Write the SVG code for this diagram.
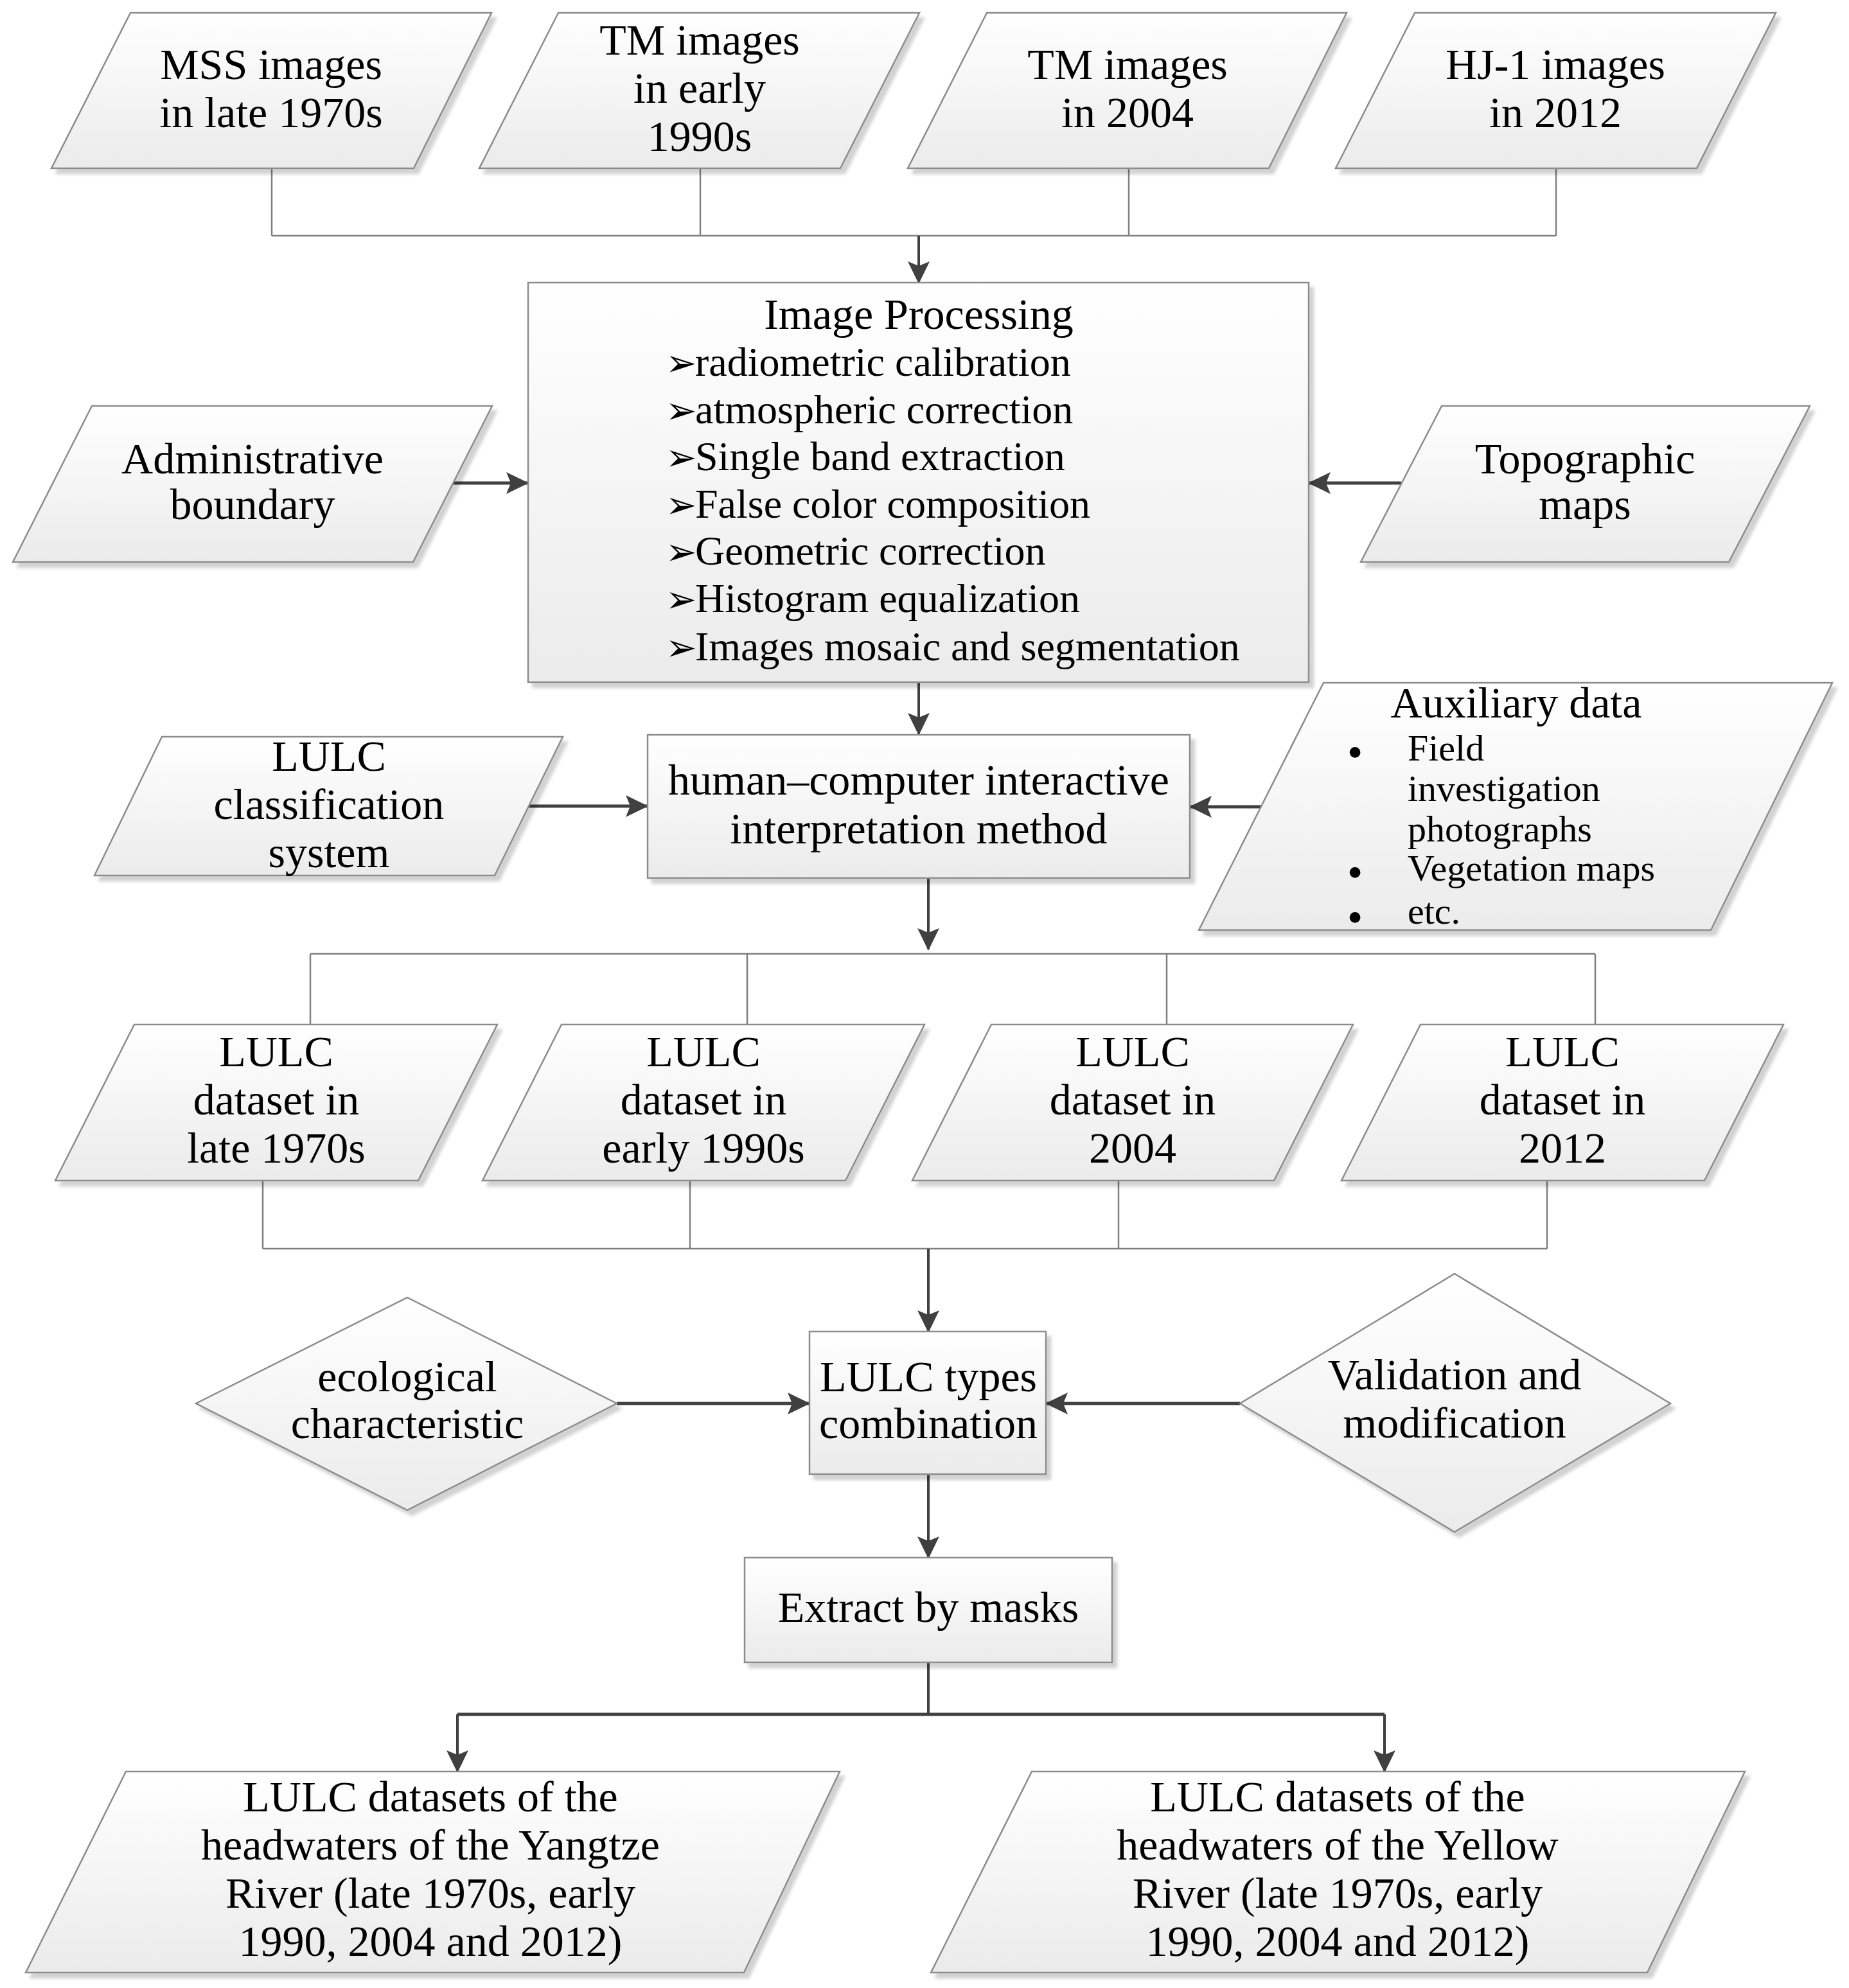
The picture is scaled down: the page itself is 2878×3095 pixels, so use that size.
<svg xmlns="http://www.w3.org/2000/svg" width="2878" height="3095" viewBox="0 0 2878 3095">
<defs>
<linearGradient id="g" x1="0" y1="0" x2="0" y2="1">
<stop offset="0" stop-color="#ffffff"/>
<stop offset="1" stop-color="#ebebeb"/>
</linearGradient>
<filter id="sh" x="-5%" y="-5%" width="115%" height="120%">
<feGaussianBlur in="SourceAlpha" stdDeviation="2.5"/>
<feOffset dx="7" dy="8"/>
<feComponentTransfer><feFuncA type="linear" slope="0.18"/></feComponentTransfer>
<feMerge><feMergeNode/><feMergeNode in="SourceGraphic"/></feMerge>
</filter>
<marker id="ah" markerUnits="userSpaceOnUse" markerWidth="36" markerHeight="34" viewBox="0 0 36 34" refX="33" refY="17" orient="auto">
<path d="M0,0 L35,17 L0,34 L7,17 z" fill="#404040"/>
</marker>
</defs>
<style>
.n{fill:url(#g);stroke:#8c8c8c;stroke-width:2.5;filter:url(#sh)}
.t{font-family:"Liberation Serif","Times New Roman",serif;font-size:68px;fill:#000;text-anchor:middle}
.l{font-family:"Liberation Serif","Times New Roman",serif;font-size:64px;fill:#000}
.a{font-family:"Liberation Serif","Times New Roman",serif;font-size:58px;fill:#000}
.b{font-size:62px;font-weight:bold}
.ar{font-family:"DejaVu Sans",sans-serif;font-size:58px}
.g{fill:none;stroke:#808080;stroke-width:2.5}
.d{fill:none;stroke:#404040;stroke-width:4}
.h{fill:none;stroke:#404040;stroke-width:5}
.m{marker-end:url(#ah)}
</style>
<rect width="2878" height="3095" fill="#ffffff"/>

<g id="connectors">
<path class="g" d="M423,262 V367 M1090,262 V367 M1757,262 V367 M2422,262 V367 M423,367 H2422"/>
<path class="d m" d="M1430,367 V440"/>
<path class="h m" d="M705,752 H821"/>
<path class="h m" d="M2181,752 H2038"/>
<path class="d m" d="M1430,1063 V1143"/>
<path class="h m" d="M822,1255 H1007"/>
<path class="h m" d="M1965,1256 H1853"/>
<path class="d m" d="M1445,1367 V1478"/>
<path class="g" d="M483,1485 H2483 M483,1485 V1595 M1163,1485 V1595 M1816,1485 V1595 M2483,1485 V1595"/>
<path class="g" d="M409,1838 V1944 M1074,1838 V1944 M1741,1838 V1944 M2408,1838 V1944 M409,1944 H2408"/>
<path class="d m" d="M1445,1944 V2073"/>
<path class="h m" d="M960,2185 H1259"/>
<path class="h m" d="M1930,2185 H1629"/>
<path class="d m" d="M1445,2295 V2425"/>
<path class="d" d="M1445,2588 V2669"/>
<path class="h" d="M712,2669 H2155"/>
<path class="d m" d="M712,2669 V2758"/>
<path class="d m" d="M2155,2669 V2758"/>
</g>

<g id="mss">
<polygon class="n" points="203,20 765,20 644,262 80,262"/>
<text class="t" x="422" y="123">MSS images</text>
<text class="t" x="422" y="198">in late 1970s</text>
</g>
<g id="tm1990">
<polygon class="n" points="869,20 1431,20 1308,262 746,262"/>
<text class="t" x="1089" y="85">TM images</text>
<text class="t" x="1089" y="160">in early</text>
<text class="t" x="1089" y="235">1990s</text>
</g>
<g id="tm2004">
<polygon class="n" points="1536,20 2096,20 1975,262 1413,262"/>
<text class="t" x="1755" y="123">TM images</text>
<text class="t" x="1755" y="198">in 2004</text>
</g>
<g id="hj2012">
<polygon class="n" points="2202,20 2764,20 2641,262 2079,262"/>
<text class="t" x="2421" y="123">HJ-1 images</text>
<text class="t" x="2421" y="198">in 2012</text>
</g>

<g id="imageprocessing">
<rect class="n" x="822" y="440" width="1215" height="622"/>
<text class="t" x="1430" y="512">Image Processing</text>
<text class="l" y="585"><tspan class="ar" x="1036">➢</tspan><tspan x="1082">radiometric calibration</tspan></text>
<text class="l" y="659"><tspan class="ar" x="1036">➢</tspan><tspan x="1082">atmospheric correction</tspan></text>
<text class="l" y="732"><tspan class="ar" x="1036">➢</tspan><tspan x="1082">Single band extraction</tspan></text>
<text class="l" y="806"><tspan class="ar" x="1036">➢</tspan><tspan x="1082">False color composition</tspan></text>
<text class="l" y="879"><tspan class="ar" x="1036">➢</tspan><tspan x="1082">Geometric correction</tspan></text>
<text class="l" y="953"><tspan class="ar" x="1036">➢</tspan><tspan x="1082">Histogram equalization</tspan></text>
<text class="l" y="1028"><tspan class="ar" x="1036">➢</tspan><tspan x="1082">Images mosaic and segmentation</tspan></text>
</g>

<g id="admin">
<polygon class="n" points="143,632 766,632 643,875 20,875"/>
<text class="t" x="393" y="737">Administrative</text>
<text class="t" x="393" y="808">boundary</text>
</g>
<g id="topo">
<polygon class="n" points="2244,632 2817,632 2691,875 2118,875"/>
<text class="t" x="2467" y="737">Topographic</text>
<text class="t" x="2467" y="808">maps</text>
</g>

<g id="classification">
<polygon class="n" points="252,1147 876,1147 770,1363 147,1363"/>
<text class="t" x="512" y="1200">LULC</text>
<text class="t" x="512" y="1275">classification</text>
<text class="t" x="512" y="1350">system</text>
</g>
<g id="interpretation">
<rect class="n" x="1008" y="1144" width="844" height="223"/>
<text class="t" x="1430" y="1237">human–computer interactive</text>
<text class="t" x="1430" y="1313">interpretation method</text>
</g>
<g id="auxiliary">
<polygon class="n" points="2060,1063 2852,1063 2663,1448 1866,1448"/>
<text class="t" x="2360" y="1117">Auxiliary data</text>
<text class="a"><tspan class="b" x="2109" y="1192" text-anchor="middle">•</tspan><tspan x="2191" y="1184">Field</tspan><tspan x="2191" y="1247">investigation</tspan><tspan x="2191" y="1310">photographs</tspan><tspan class="b" x="2109" y="1379" text-anchor="middle">•</tspan><tspan x="2191" y="1371">Vegetation maps</tspan><tspan class="b" x="2109" y="1449" text-anchor="middle">•</tspan><tspan x="2191" y="1438">etc.</tspan></text>
</g>

<g id="ds1970">
<polygon class="n" points="209,1595 774,1595 651,1838 86,1838"/>
<text class="t" x="430" y="1660">LULC</text>
<text class="t" x="430" y="1735">dataset in</text>
<text class="t" x="430" y="1810">late 1970s</text>
</g>
<g id="ds1990">
<polygon class="n" points="874,1595 1439,1595 1316,1838 751,1838"/>
<text class="t" x="1095" y="1660">LULC</text>
<text class="t" x="1095" y="1735">dataset in</text>
<text class="t" x="1095" y="1810">early 1990s</text>
</g>
<g id="ds2004">
<polygon class="n" points="1543,1595 2106,1595 1983,1838 1420,1838"/>
<text class="t" x="1763" y="1660">LULC</text>
<text class="t" x="1763" y="1735">dataset in</text>
<text class="t" x="1763" y="1810">2004</text>
</g>
<g id="ds2012">
<polygon class="n" points="2211,1595 2776,1595 2653,1838 2088,1838"/>
<text class="t" x="2432" y="1660">LULC</text>
<text class="t" x="2432" y="1735">dataset in</text>
<text class="t" x="2432" y="1810">2012</text>
</g>

<g id="ecological">
<polygon class="n" points="634,2020 960,2185 634,2351 305,2185"/>
<text class="t" x="634" y="2166">ecological</text>
<text class="t" x="634" y="2239">characteristic</text>
</g>
<g id="combination">
<rect class="n" x="1260" y="2073" width="368" height="222"/>
<text class="t" x="1445" y="2166">LULC types</text>
<text class="t" x="1445" y="2239">combination</text>
</g>
<g id="validation">
<polygon class="n" points="2264,1983 2600,2185 2264,2385 1930,2185"/>
<text class="t" x="2264" y="2163">Validation and</text>
<text class="t" x="2264" y="2238">modification</text>
</g>
<g id="extract">
<rect class="n" x="1159" y="2425" width="572" height="163"/>
<text class="t" x="1445" y="2525">Extract by masks</text>
</g>

<g id="yangtze">
<polygon class="n" points="196,2758 1307,2758 1158,3071 40,3071"/>
<text class="t" x="670" y="2820">LULC datasets of the</text>
<text class="t" x="670" y="2895">headwaters of the Yangtze</text>
<text class="t" x="670" y="2970">River (late 1970s, early</text>
<text class="t" x="670" y="3045">1990, 2004 and 2012)</text>
</g>
<g id="yellow">
<polygon class="n" points="1606,2758 2716,2758 2564,3071 1449,3071"/>
<text class="t" x="2082" y="2820">LULC datasets of the</text>
<text class="t" x="2082" y="2895">headwaters of the Yellow</text>
<text class="t" x="2082" y="2970">River (late 1970s, early</text>
<text class="t" x="2082" y="3045">1990, 2004 and 2012)</text>
</g>
</svg>
